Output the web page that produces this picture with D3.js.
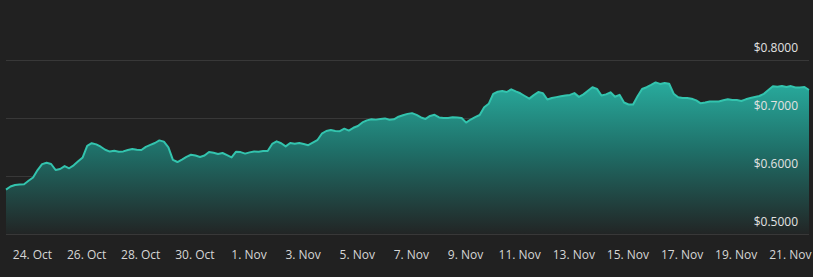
<!DOCTYPE html>
<html>
<head>
<meta charset="utf-8">
<script src="https://cdn.jsdelivr.net/npm/d3@7"></script>
<style>
  html, body { margin: 0; padding: 0; background: #212121; }
  svg { display: block; font-family: "Open Sans", "DejaVu Sans", sans-serif; }
</style>
</head>
<body>
<svg id="chart"></svg>
<script>
// price series, one reading every 4 hours from the first time stamp
const startTime = Date.UTC(2023, 9, 23, 1);
const stepHours = 4;
const prices = [
  0.5764, 0.5819, 0.5845, 0.5855, 0.5859, 0.5917, 0.5974, 0.6103, 0.6205, 0.6228,
  0.6207, 0.6103, 0.6121, 0.6171, 0.6133, 0.6184, 0.6253, 0.6321, 0.6519, 0.6566,
  0.6545, 0.6505, 0.6452, 0.6421, 0.6436, 0.6417, 0.6424, 0.6448, 0.6464, 0.6452,
  0.6448, 0.6503, 0.6536, 0.6569, 0.6614, 0.6593, 0.6495, 0.6279, 0.6241, 0.6283,
  0.6329, 0.6366, 0.6353, 0.6328, 0.6353, 0.6414, 0.6400, 0.6379, 0.6397, 0.6360,
  0.6321, 0.6419, 0.6412, 0.6386, 0.6407, 0.6424, 0.6419, 0.6431, 0.6431, 0.6552,
  0.6598, 0.6564, 0.6510, 0.6569, 0.6555, 0.6569, 0.6552, 0.6531, 0.6574, 0.6617,
  0.6729, 0.6776, 0.6793, 0.6776, 0.6772, 0.6816, 0.6783, 0.6831, 0.6862, 0.6924,
  0.6959, 0.6978, 0.6972, 0.6983, 0.6993, 0.6969, 0.6978, 0.7022, 0.7047, 0.7071,
  0.7084, 0.7053, 0.7009, 0.6984, 0.7036, 0.7055, 0.7010, 0.7000, 0.7000, 0.7012,
  0.7009, 0.7000, 0.6921, 0.6974, 0.7016, 0.7052, 0.7186, 0.7245, 0.7417, 0.7452,
  0.7464, 0.7448, 0.7495, 0.7459, 0.7426, 0.7379, 0.7334, 0.7395, 0.7448, 0.7429,
  0.7319, 0.7345, 0.7360, 0.7374, 0.7386, 0.7398, 0.7429, 0.7364, 0.7407, 0.7469,
  0.7531, 0.7503, 0.7388, 0.7407, 0.7443, 0.7366, 0.7400, 0.7267, 0.7233, 0.7231,
  0.7374, 0.7500, 0.7531, 0.7571, 0.7614, 0.7588, 0.7603, 0.7590, 0.7419, 0.7357,
  0.7345, 0.7345, 0.7331, 0.7303, 0.7253, 0.7266, 0.7286, 0.7284, 0.7284, 0.7305,
  0.7324, 0.7310, 0.7310, 0.7293, 0.7322, 0.7345, 0.7362, 0.7379, 0.7417, 0.7483,
  0.7547, 0.7538, 0.7550, 0.7534, 0.7550, 0.7526, 0.7528, 0.7534, 0.7483
];
const yTicks = [0.5, 0.6, 0.7, 0.8];
const firstLabelDay = Date.UTC(2023, 9, 24);
const labelEveryDays = 2;

const width = 813,
  height = 277;
const plot = { left: 6, right: 809, top: 60, bottom: 234 };

const data = prices.map((v, i) => ({
  date: new Date(startTime + i * stepHours * 3600 * 1000),
  value: v,
}));

const svg = d3
  .select("#chart")
  .attr("width", width)
  .attr("height", height)
  .attr("viewBox", [0, 0, width, height]);

const x = d3
  .scaleUtc()
  .domain(d3.extent(data, (d) => d.date))
  .range([plot.left, plot.right]);

const y = d3
  .scaleLinear()
  .domain([0.5, 0.8])
  .range([plot.bottom, plot.top]);

// opaque gradient so the grid lines stay hidden behind the area
const defs = svg.append("defs");
const grad = defs
  .append("linearGradient")
  .attr("id", "areaFill")
  .attr("x1", 0)
  .attr("y1", 0)
  .attr("x2", 0)
  .attr("y2", 1);
grad.append("stop").attr("offset", "0%").attr("stop-color", "#28ab9d");
grad.append("stop").attr("offset", "45%").attr("stop-color", "#1f6f68");
grad.append("stop").attr("offset", "100%").attr("stop-color", "#222525");

// grid lines
svg
  .append("g")
  .selectAll("line")
  .data(yTicks)
  .join("line")
  .attr("x1", plot.left)
  .attr("x2", plot.right)
  .attr("y1", (d) => y(d) + 0.5)
  .attr("y2", (d) => y(d) + 0.5)
  .attr("stroke", "#383838")
  .attr("stroke-width", 1);

const area = d3
  .area()
  .x((d) => x(d.date))
  .y0(y(0.5))
  .y1((d) => y(d.value));

const line = d3
  .line()
  .x((d) => x(d.date))
  .y((d) => y(d.value));

svg.append("path").datum(data).attr("d", area).attr("fill", "url(#areaFill)");

svg
  .append("path")
  .datum(data)
  .attr("d", line)
  .attr("fill", "none")
  .attr("stroke", "#33c4ae")
  .attr("stroke-width", 2)
  .attr("stroke-linejoin", "round");

// y labels sit above their grid lines, right aligned
const fmtPrice = d3.format("$.4f");
svg
  .append("g")
  .selectAll("text")
  .data(yTicks)
  .join("text")
  .attr("x", 798)
  .attr("y", (d) => y(d) - 8)
  .attr("text-anchor", "end")
  .attr("fill", "#e2e2e2")
  .style("font-size", "12px")
  .text((d) => fmtPrice(d));

// x axis labels every 2 days
const xTicks = d3.utcDay.range(new Date(firstLabelDay), x.domain()[1], labelEveryDays);
const fmtDay = d3.utcFormat("%-d. %b");
const xAxis = d3
  .axisBottom(x)
  .tickValues(xTicks)
  .tickFormat(fmtDay)
  .tickSize(0)
  .tickPadding(0);

svg
  .append("g")
  .attr("transform", `translate(0,${plot.bottom})`)
  .call(xAxis)
  .call((g) => g.select(".domain").remove())
  .call((g) =>
    g
      .selectAll("text")
      .attr("y", 25)
      .attr("dy", 0)
      .attr("fill", "#d6d6d6")
      .style("font-size", "12px")
      .style("font-family", '"Open Sans", "DejaVu Sans", sans-serif')
  );
</script>
</body>
</html>
